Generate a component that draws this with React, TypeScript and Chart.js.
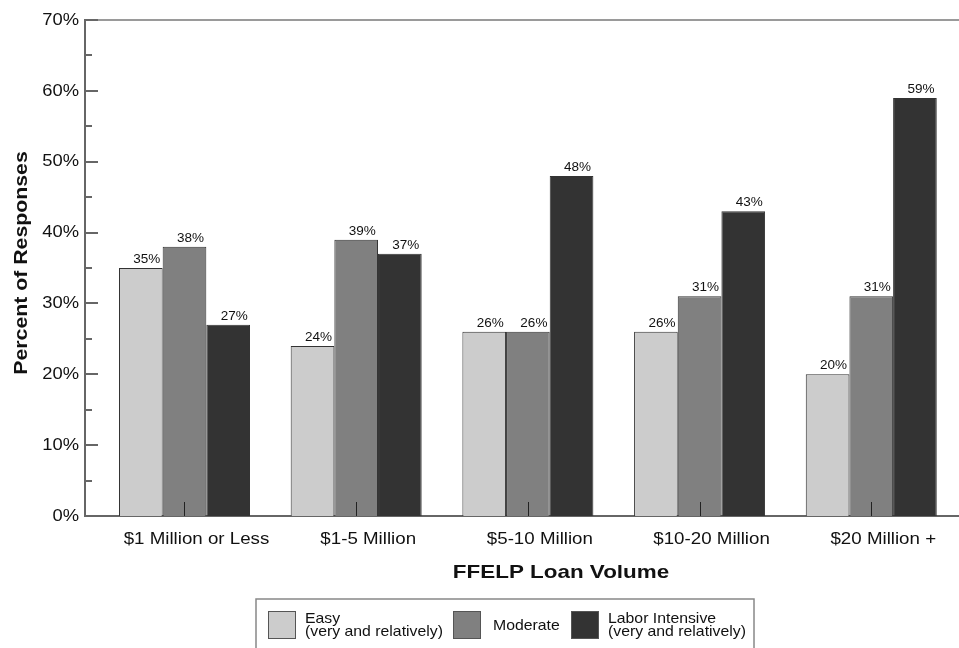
import { useEffect, useRef } from "react";
import { Chart, registerables } from "chart.js";

Chart.register(...registerables);

// Loan-volume groups and response shares (percent) for each difficulty rating
const categories = ["$1 Million or Less", "$1-5 Million", "$5-10 Million", "$10-20 Million", "$20 Million +"];
const easy = [35, 24, 26, 26, 20];
const moderate = [38, 39, 26, 31, 31];
const laborIntensive = [27, 37, 48, 43, 59];
const yTicks = [0, 10, 20, 30, 40, 50, 60, 70];
const seriesLabels = [["Easy", "(very and relatively)"], ["Moderate"], ["Labor Intensive", "(very and relatively)"]];
const seriesColors = ["#cccccc", "#808080", "#333333"];

const FONT = "'Liberation Sans', Arial, Helvetica, sans-serif";

// fill text with a slight horizontal stretch (the chart's type is set wide)
function wideText(
  ctx: CanvasRenderingContext2D,
  text: string,
  x: number,
  y: number,
  font: string,
  align: CanvasTextAlign,
  stretch: number,
  baseline: CanvasTextBaseline = "alphabetic",
  rotate = 0
) {
  ctx.save();
  ctx.font = font;
  ctx.textAlign = align;
  ctx.textBaseline = baseline;
  ctx.translate(x, y);
  if (rotate) ctx.rotate(rotate);
  ctx.scale(stretch, 1);
  ctx.fillText(text, 0, 0);
  ctx.restore();
}

const decorations = {
  id: "decorations",
  afterDatasetsDraw(chart: any) {
    const { ctx, chartArea, scales } = chart;
    const { left, right, top, bottom } = chartArea;
    const y = scales.y;
    const x = scales.x;
    ctx.save();

    // top frame line
    ctx.strokeStyle = "#9a9a9a";
    ctx.lineWidth = 2;
    ctx.beginPath();
    ctx.moveTo(left, top);
    ctx.lineTo(right, top);
    ctx.stroke();

    // inward y ticks (major every 10, minor every 5)
    ctx.strokeStyle = "#666";
    ctx.lineWidth = 2;
    for (let v = 0; v <= 70; v += 5) {
      const py = Math.round(y.getPixelForValue(v));
      const len = v % 10 === 0 ? 13 : 7;
      ctx.beginPath();
      ctx.moveTo(left, py);
      ctx.lineTo(left + len, py);
      ctx.stroke();
    }

    // inward x ticks at group centres
    ctx.strokeStyle = "#222";
    ctx.lineWidth = 1;
    categories.forEach((_, i) => {
      const px = Math.round(x.getPixelForValue(i)) + 0.5;
      ctx.beginPath();
      ctx.moveTo(px, bottom);
      ctx.lineTo(px, bottom - 14);
      ctx.stroke();
    });

    ctx.fillStyle = "#111";

    // y tick labels
    yTicks.forEach((v) => {
      wideText(ctx, `${v}%`, 79, y.getPixelForValue(v), `17px ${FONT}`, "right", 1.08, "middle");
    });

    // category labels
    categories.forEach((c, i) => {
      wideText(ctx, c, x.getPixelForValue(i) + 12, 544, `16px ${FONT}`, "center", 1.17);
    });

    // value labels above bars
    chart.data.datasets.forEach((ds: any, di: number) => {
      const meta = chart.getDatasetMeta(di);
      meta.data.forEach((bar: any, i: number) => {
        wideText(ctx, `${ds.data[i].y}%`, bar.x + 6, bar.y - 5, `13px ${FONT}`, "center", 1.04);
      });
    });
    ctx.restore();
  },
  afterDraw(chart: any) {
    const { ctx } = chart;
    ctx.save();
    ctx.fillStyle = "#111";

    // axis titles
    wideText(ctx, "Percent of Responses", 27, 263, `bold 19px ${FONT}`, "center", 1.12, "alphabetic", -Math.PI / 2);
    wideText(ctx, "FFELP Loan Volume", 561, 578, `bold 19px ${FONT}`, "center", 1.18);

    // legend
    ctx.strokeStyle = "#888";
    ctx.lineWidth = 1.5;
    ctx.strokeRect(256, 599, 498, 70);
    const swatchX = [268, 453, 571];
    const textX = [305, 493, 608];
    seriesLabels.forEach((lines, i) => {
      ctx.fillStyle = seriesColors[i];
      ctx.fillRect(swatchX[i], 611, 28, 28);
      ctx.strokeStyle = "#555";
      ctx.lineWidth = 1;
      ctx.strokeRect(swatchX[i] + 0.5, 611.5, 27, 27);
      ctx.fillStyle = "#111";
      const font = `14.5px ${FONT}`;
      if (lines.length === 1) {
        wideText(ctx, lines[0], textX[i], 630, font, "left", 1.09);
      } else {
        wideText(ctx, lines[0], textX[i], 623, font, "left", 1.09);
        wideText(ctx, lines[1], textX[i], 636, font, "left", 1.09);
      }
    });
    ctx.restore();
  },
};

export default function App() {
  const ref = useRef<HTMLCanvasElement>(null);

  useEffect(() => {
    if (!ref.current) return;
    const makeData = (vals: number[]) => vals.map((v, i) => ({ x: i, y: v }));
    const chart = new Chart(ref.current, {
      type: "bar",
      data: {
        datasets: [
          { label: "Easy", data: makeData(easy), backgroundColor: seriesColors[0] },
          { label: "Moderate", data: makeData(moderate), backgroundColor: seriesColors[1] },
          { label: "Labor Intensive", data: makeData(laborIntensive), backgroundColor: seriesColors[2] },
        ].map((d) => ({
          ...d,
          borderColor: "#333",
          borderWidth: 1,
          categoryPercentage: 0.763,
          barPercentage: 1,
        })),
      },
      options: {
        animation: false,
        responsive: false,
        devicePixelRatio: 1,
        layout: { padding: { top: 20, right: 0, left: 0, bottom: 0 } },
        plugins: {
          legend: { display: false },
          tooltip: { enabled: false },
          title: { display: false },
        },
        scales: {
          x: {
            type: "linear",
            min: -0.5795,
            max: 4.511,
            offset: false,
            afterBuildTicks: (s: any) => {
              s.ticks = categories.map((_, i) => ({ value: i }));
            },
            afterFit: (s: any) => {
              s.height = 132;
            },
            grid: { display: false, drawTicks: false },
            border: { display: true, color: "#666", width: 2 },
            ticks: { display: false },
          },
          y: {
            min: 0,
            max: 70,
            afterBuildTicks: (s: any) => {
              s.ticks = yTicks.map((v) => ({ value: v }));
            },
            afterFit: (s: any) => {
              s.width = 85;
            },
            grid: { display: false, drawTicks: false },
            border: { display: true, color: "#666", width: 2 },
            ticks: { display: false },
          },
        },
      },
      plugins: [decorations],
    });
    return () => chart.destroy();
  }, []);

  return (
    <div style={{ position: "absolute", left: 0, top: 0, width: 959, height: 648, background: "#fff" }}>
      <canvas ref={ref} width={959} height={648} />
    </div>
  );
}
